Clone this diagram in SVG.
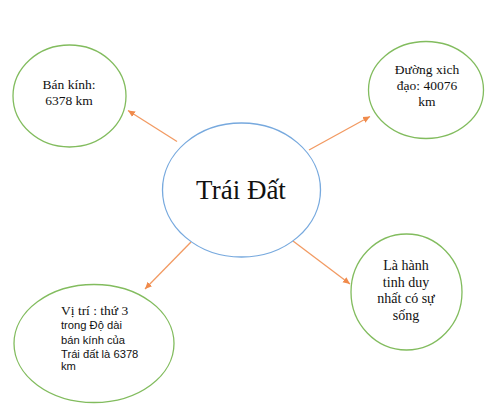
<svg xmlns="http://www.w3.org/2000/svg" width="485" height="412" viewBox="0 0 485 412">
<style>
.node{fill:#fff;stroke:#82BC5E;stroke-width:1.3}
.center{fill:#fff;stroke:#77A9DE;stroke-width:1.3}
.t{font-family:"Liberation Serif","Times New Roman",serif;font-size:13.5px;fill:#111}
.s{font-family:"Liberation Sans",Arial,sans-serif;font-size:11.2px;fill:#111}
.conn{stroke:#F29A62;stroke-width:1.3;fill:none;marker-end:url(#ah)}
</style>
<defs>
<marker id="ah" markerWidth="8" markerHeight="8" refX="7" refY="4" orient="auto" markerUnits="userSpaceOnUse">
<path d="M0,0.8 L7,4 L0,7.2 Z" fill="#F08A4B"/>
</marker>
</defs>
<rect width="485" height="412" fill="#fff"/>
<g id="connectors">
<line class="conn" x1="177" y1="141.5" x2="128" y2="110.5"/>
<line class="conn" x1="309" y1="150" x2="370" y2="116.5"/>
<line class="conn" x1="191" y1="242" x2="145" y2="289"/>
<line class="conn" x1="293" y1="241" x2="350" y2="284"/>
</g>
<g id="center">
<ellipse class="center" cx="241.5" cy="190" rx="79" ry="67"/>
<text x="241" y="199" text-anchor="middle" style="font-family:'Liberation Serif','Times New Roman',serif;font-size:27px;fill:#111">Trái Đất</text>
</g>
<g id="ban-kinh">
<ellipse class="node" cx="69.5" cy="96" rx="56.5" ry="51"/>
<text class="t" text-anchor="middle"><tspan x="69" y="89">Bán kính:</tspan><tspan x="69" y="104.5">6378 km</tspan></text>
</g>
<g id="xich-dao">
<ellipse class="node" cx="426" cy="90" rx="57.5" ry="48.5"/>
<text class="t" text-anchor="middle"><tspan x="427" y="74">Đường xich</tspan><tspan x="427" y="90">đạo: 40076</tspan><tspan x="427" y="106">km</tspan></text>
</g>
<g id="vi-tri">
<ellipse class="node" cx="94" cy="343.5" rx="80" ry="59"/>
<text class="t" x="61" y="315">Vị trí : thứ 3</text>
<text class="s"><tspan x="61" y="329.3">trong Độ dài</tspan><tspan x="61" y="343.6">bán kính của</tspan><tspan x="61" y="357.9">Trái đất là 6378</tspan><tspan x="61" y="369.5">km</tspan></text>
</g>
<g id="su-song">
<ellipse class="node" cx="406.5" cy="292" rx="55.5" ry="58"/>
<text class="t" text-anchor="middle" style="font-size:14px"><tspan x="406" y="270">Là hành</tspan><tspan x="406" y="286.5">tinh duy</tspan><tspan x="406" y="303">nhất có sự</tspan><tspan x="406" y="319.5">sống</tspan></text>
</g>
</svg>
